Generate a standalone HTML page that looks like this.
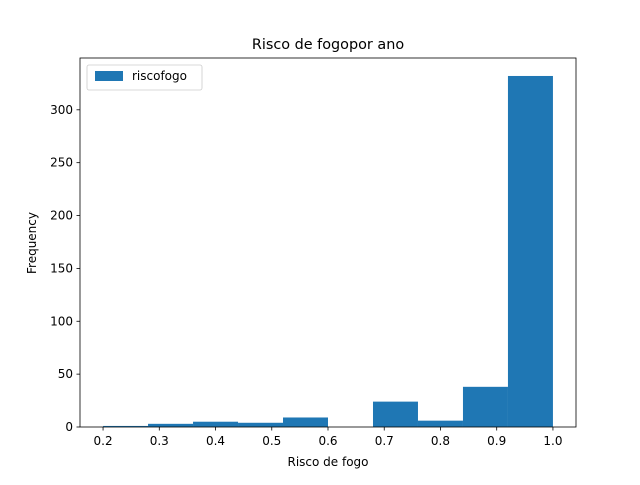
<!DOCTYPE html>
<html><head><meta charset="utf-8"><style>
body{margin:0;background:#fff;}
text{font-family:"DejaVu Sans","Liberation Sans",sans-serif;fill:#000;}
</style></head><body>
<svg id="c" width="640" height="480" xmlns="http://www.w3.org/2000/svg">
<rect width="640" height="480" fill="#fff"/>
<g id="bars"></g>
<rect x="80" y="58" width="496" height="369" fill="none" stroke="#000" stroke-width="0.8"/>
<g id="ticks"></g>
<text x="328" y="49" font-size="14.4" text-anchor="middle">Risco de fogopor ano</text>
<text x="328" y="466" font-size="12" text-anchor="middle">Risco de fogo</text>
<text x="0" y="0" font-size="12" text-anchor="middle" transform="translate(36,243) rotate(-90)">Frequency</text>
<g>
<rect x="87" y="65" width="115" height="25" rx="2" fill="#fff" stroke="#ccc" stroke-width="0.8"/>
<rect x="95" y="71" width="28" height="10" fill="#1f77b4"/>
<text x="132" y="80" font-size="12">riscofogo</text>
</g>
</svg>
<script>
const binEdges=[0.2,0.28,0.36,0.44,0.52,0.6,0.68,0.76,0.84,0.92,1.0];
const counts=[1,3,5,4,9,0,24,6,38,332];
const xTicks=[0.2,0.3,0.4,0.5,0.6,0.7,0.8,0.9,1.0];
const yTicks=[0,50,100,150,200,250,300];
const X0=80,X1=576,Y0=427,Y1=58,xmin=0.159,xmax=1.041,ymin=0,ymax=349;
const xs=v=>X0+(v-xmin)/(xmax-xmin)*(X1-X0);
const ys=v=>Y0-(v-ymin)/(ymax-ymin)*(Y0-Y1);
const NS="http://www.w3.org/2000/svg";
const bars=document.getElementById('bars'),tk=document.getElementById('ticks');
counts.forEach((c,i)=>{
 const r=document.createElementNS(NS,'rect');
 r.setAttribute('x',xs(binEdges[i]));r.setAttribute('width',xs(binEdges[i+1])-xs(binEdges[i]));
 r.setAttribute('y',ys(c));r.setAttribute('height',ys(0)-ys(c));r.setAttribute('fill','#1f77b4');
 
 
 bars.appendChild(r);
});
xTicks.forEach(v=>{
 const x=xs(v);
 const l=document.createElementNS(NS,'line');
 l.setAttribute('x1',x);l.setAttribute('x2',x);l.setAttribute('y1',Y0);l.setAttribute('y2',Y0+3.5);l.setAttribute('stroke','#000');l.setAttribute('stroke-width','0.8');
 
 
 tk.appendChild(l);
 const t=document.createElementNS(NS,'text');
 t.setAttribute('x',x);t.setAttribute('y',Y0+18);t.setAttribute('font-size','12');t.setAttribute('text-anchor','middle');t.textContent=v.toFixed(1);
 
 
 tk.appendChild(t);
});
yTicks.forEach(v=>{
 const y=ys(v);
 const l=document.createElementNS(NS,'line');
 l.setAttribute('x1',X0-3.5);l.setAttribute('x2',X0);l.setAttribute('y1',y);l.setAttribute('y2',y);l.setAttribute('stroke','#000');l.setAttribute('stroke-width','0.8');
 
 
 tk.appendChild(l);
 const t=document.createElementNS(NS,'text');
 t.setAttribute('x',X0-7);t.setAttribute('y',y+4);t.setAttribute('font-size','12');t.setAttribute('text-anchor','end');t.textContent=v;
 
 
 tk.appendChild(t);
});
</script>
</body></html>
